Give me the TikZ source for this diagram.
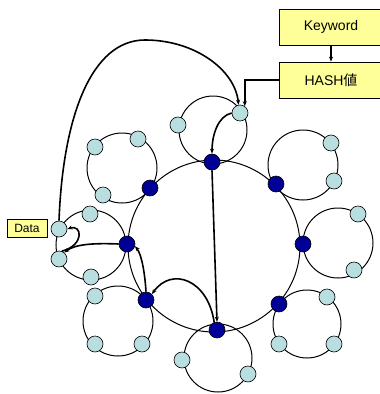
\documentclass[tikz,border=0pt]{standalone}
\usepackage{fontspec}
\setmainfont{Liberation Sans}
\newfontfamily\cjkfont{Noto Sans CJK JP}
\usetikzlibrary{arrows.meta}
\definecolor{boxyellow}{HTML}{FFFF99}
\definecolor{peerlight}{HTML}{B9DEE0}
\definecolor{peerdark}{HTML}{000096}
\tikzset{
  ring/.style={draw, line width=1pt},
  light/.style={circle, draw, line width=0.6pt, fill=peerlight, minimum size=16pt, inner sep=0pt},
  dark/.style={circle, draw, line width=0.6pt, fill=peerdark, minimum size=16pt, inner sep=0pt},
  label box/.style={draw, line width=0.8pt, fill=boxyellow, inner sep=0pt, font=\fontsize{14}{16}\selectfont},
  hop/.style={line width=1.6pt, -{Stealth[length=5pt,width=4pt]}},
}
\begin{document}
\begin{tikzpicture}[x=1pt, y=-1pt]
\useasboundingbox (0,0) rectangle (380,394);

% main ring and the local rings hanging off it
\draw[ring] (214,246) circle[radius=86];
\draw[ring] (213,130) circle[radius=34];
\draw[ring] (122,168) circle[radius=35];
\draw[ring] (303,165) circle[radius=35];
\draw[ring] (338,243) circle[radius=35];
\draw[ring] (307,324) circle[radius=34];
\draw[ring] (218,358) circle[radius=34];
\draw[ring] (118,321) circle[radius=35];
\draw[ring] (91,245) circle[radius=35];

% super peers on the main ring
\node[dark] (N1) at (212,162) {};
\node[dark] (N2) at (276,184) {};
\node[dark] (N3) at (303,244) {};
\node[dark] (N4) at (279,304) {};
\node[dark] (N5) at (217,330) {};
\node[dark] (N6) at (146,300) {};
\node[dark] (N7) at (127,244) {};
\node[dark] (N8) at (150,188) {};

% ordinary peers
\node[light] (T1) at (178,125) {};
\node[light] (T2) at (240,113) {};
\node[light] (A1) at (95,147) {};
\node[light] (A2) at (138,139) {};
\node[light] (A3) at (103,195) {};
\node[light] (B1) at (331,143) {};
\node[light] (B2) at (334,181) {};
\node[light] (C1) at (358,214) {};
\node[light] (C2) at (354,270) {};
\node[light] (E1) at (327,297) {};
\node[light] (E2) at (334,344) {};
\node[light] (E3) at (279,344) {};
\node[light] (F1) at (182,360) {};
\node[light] (F2) at (248,374) {};
\node[light] (G1) at (95,296) {};
\node[light] (G2) at (95,344) {};
\node[light] (G3) at (142,344) {};
\node[light] (D1) at (90,214) {};
\node[light] (D2) at (59,229) {};
\node[light] (D3) at (59,259) {};
\node[light] (D4) at (91,277) {};

% labels
\node[label box, minimum width=104pt, minimum height=36pt] (KW) at (331,27) {Keyword};
\node[label box, minimum width=104pt, minimum height=36pt] (HV) at (331,80) {HASH{\cjkfont 値}};
\node[label box, minimum width=40pt, minimum height=18pt, font=\fontsize{12}{14}\selectfont] (DT) at (27,228) {Data};

% lookup path
\draw[hop] (KW.south) -- (HV.north);
\draw[hop] (HV.west) -| (T2.55);
\draw[hop] (D2.north) .. controls (63,115) and (92,40) .. (145,40)
                      .. controls (195,40) and (235,70) .. (T2.100);
\draw[hop] (T2.west) .. controls (218,116) and (212,135) .. (N1.north);
\draw[hop] (N1.south) -- (N5.north);
\draw[hop] (N5.110) .. controls (208,280) and (172,266) .. (N6.45);
\draw[hop] (N6.north) .. controls (145,275) and (142,255) .. (N7.-15);
\draw[hop] (N7.west) .. controls (95,243) and (75,244) .. (D3.50);
\draw[hop] (D3.70) .. controls (85,245) and (82,224) .. (D2.east);
\end{tikzpicture}
\end{document}
